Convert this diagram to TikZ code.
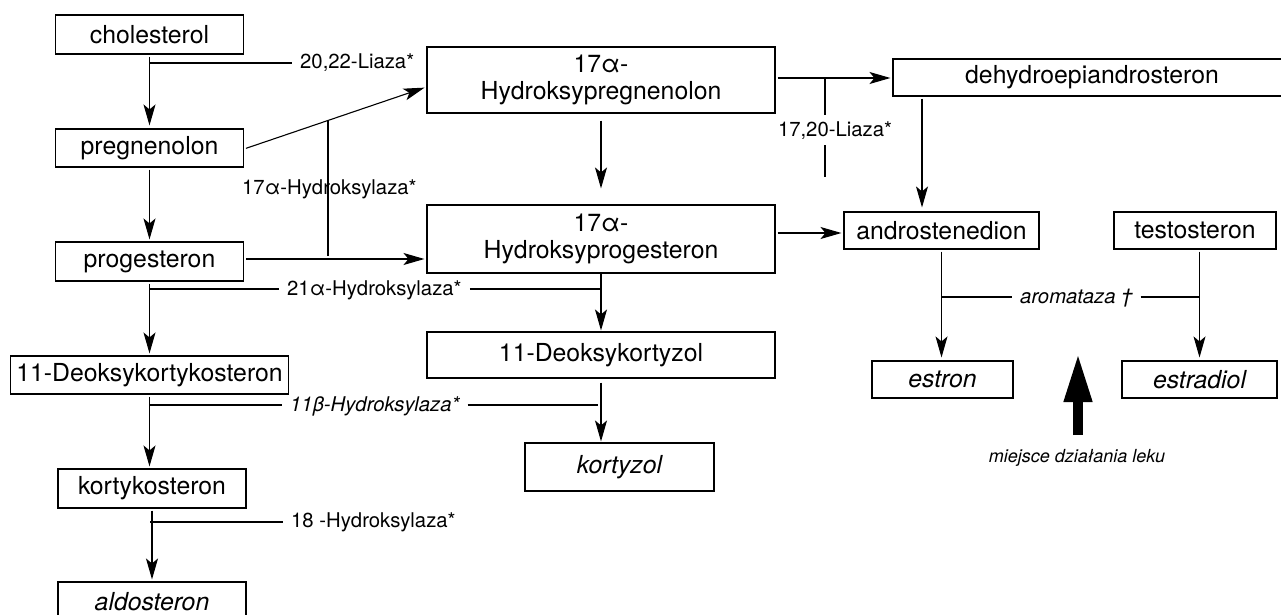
\documentclass[tikz,border=0pt]{standalone}
\usepackage{fontspec}
\setmainfont{TeX Gyre Heros}
\usetikzlibrary{arrows.meta}
\begin{document}
\begin{tikzpicture}[x=1pt,y=-1pt,
  box/.style={draw, line width=1.1pt, inner sep=0pt, font=\fontsize{24.8}{27}\selectfont, align=center},
  lab/.style={inner xsep=8pt, inner ysep=0pt, anchor=base west, font=\fontsize{20.3}{24}\selectfont},
  ilab/.style={lab, font=\itshape\fontsize{20.3}{24}\selectfont},
  arr/.style={-{Stealth[length=21pt,width=12pt,inset=5pt]}, line width=1.1pt},
  ln/.style={line width=1.1pt}]
\useasboundingbox (0,0) rectangle (1281,615);
\clip (0,0) rectangle (1281,615);
\fill[white] (0,0) rectangle (1281,615);

% boxes
\node[box, minimum width=188pt, minimum height=39pt] (chol) at (149.5,34.5) {cholesterol};
\node[box, minimum width=188pt, minimum height=38pt] (preg) at (149.5,148) {pregnenolon};
\node[box, minimum width=188pt, minimum height=39pt] (prog) at (149.5,261.5) {progesteron};
\node[box, minimum width=278pt, minimum height=38pt] (dkst) at (149.5,375) {11-Deoksykortykosteron};
\node[box, minimum width=188pt, minimum height=39pt] (kort) at (152,488.5) {kortykosteron};
\node[box, minimum width=188pt, minimum height=39pt] (aldo) at (152,601.5) {\itshape aldosteron};
\node[box, minimum width=348pt, minimum height=66pt] (hpreg) at (601,80) {17α-\\Hydroksypregnenolon};
\node[box, minimum width=348pt, minimum height=68pt] (hprog) at (601,239) {17α-\\Hydroksyprogesteron};
\node[box, minimum width=348pt, minimum height=46pt] (dkz) at (601,355) {11-Deoksykortyzol};
\node[box, minimum width=189pt, minimum height=48pt] (kortyzol) at (619.5,467) {\itshape kortyzol};
\node[box, minimum width=398pt, minimum height=37pt] (dhea) at (1092,77.5) {dehydroepiandrosteron};
\node[box, minimum width=195pt, minimum height=37pt] (andr) at (941.5,230.5) {androstenedion};
\node[box, minimum width=162pt, minimum height=37pt] (test) at (1195,230.5) {testosteron};
\node[box, minimum width=141pt, minimum height=37pt] (estron) at (942.5,379.5) {\itshape estron};
\node[box, minimum width=155pt, minimum height=37pt] (estradiol) at (1199.5,379.5) {\itshape estradiol};

% arrows
\draw[arr, shorten <=2pt, shorten >=3pt] (chol) -- (preg);
\draw[arr, shorten <=2pt, shorten >=2pt] ([yshift=-1pt]preg.east) -- ([yshift=-7pt]hpreg.west);
\draw[arr, shorten <=2pt, shorten >=2pt] (preg) -- (prog);
\draw[arr, shorten <=2pt, shorten >=2pt] ([yshift=2.5pt]prog.east) -- ([yshift=2.5pt]prog.east -| hprog.west);
\draw[arr, shorten <=2pt, shorten >=2pt] (prog) -- (dkst);
\draw[arr, shorten <=2pt, shorten >=2pt] (dkst.south) -- (dkst.south |- kort.north);
\draw[arr, shorten <=2pt, shorten >=2pt] (kort) -- (aldo);
\draw[arr] ([yshift=-7pt]hpreg.south) -- ([yshift=16pt]hprog.north);
\draw[arr, shorten >=1pt] (hprog.south) -- (dkz.north);
\draw[arr, shorten >=1pt] ([yshift=-4pt]dkz.south) -- (dkz.south |- kortyzol.north);
\draw[arr, shorten <=2pt, shorten >=2pt] ([yshift=2pt]hpreg.east) -- ([yshift=2pt]hpreg.east -| dhea.west);
\draw[arr, shorten <=2pt, shorten >=2pt] ([yshift=6pt]hprog.east) -- ([yshift=6pt]hprog.east -| andr.west);
\coordinate (m1) at ([xshift=-19.5pt]andr.north);
\draw[arr, shorten <=2pt, shorten >=4pt] (m1 |- dhea.south) -- (m1);
\draw[arr, shorten <=2pt, shorten >=3pt] (andr.south) -- (andr.south |- estron.north);
\draw[arr, shorten <=2pt, shorten >=3pt] (estradiol.north |- test.south) -- (estradiol.north);

% enzyme labels
\coordinate (e1) at (150,63);
\node[lab] (l1) at (292,68.5) {20,22-Liaza*};
\draw[ln] (e1) -- (l1.west |- e1);

\coordinate (e2a) at (328,120.4);
\coordinate (e2b) at (328,256);
\draw[ln] (e2a) -- (e2b);
\node[lab, inner xsep=0pt] (l2) at (242,194) {17α-Hydroksylaza*};

\coordinate (e3) at (150,289);
\node[lab] (l3) at (279,295.5) {21α-Hydroksylaza*};
\draw[ln] (e3) -- (l3.west |- e3);
\draw[ln] (l3.east |- e3) -- (hprog.south |- e3);

\coordinate (e4) at (150,405);
\node[ilab] (l4) at (282,411) {11β-Hydroksylaza*};
\draw[ln] (e4) -- (l4.west |- e4);
\draw[ln] (l4.east |- e4) -- ([xshift=-3pt]dkz.south |- e4);

\coordinate (e5) at (150,522);
\node[lab] (l5) at (283,527) {18 -Hydroksylaza*};
\draw[ln] (e5) -- (l5.west |- e5);

\coordinate (e6a) at (825,78);
\coordinate (e6b) at (825,177);
\node[lab, anchor=base, inner ysep=6pt] (l6) at (835,136) {17,20-Liaza*};
\draw[ln] (e6a) -- (e6a |- l6.north);
\draw[ln] (e6a |- l6.south) -- (e6b);

\coordinate (e7a) at (942,297);
\coordinate (e7b) at (1199,297);
\node[ilab] (l7) at (1012,303) {aromataza †};
\draw[ln] (e7a) -- (l7.west |- e7a);
\draw[ln] (l7.east |- e7a) -- (e7b);

% drug action arrow
\coordinate (ba1) at (1078,435);
\coordinate (ba2) at (1078,353);
\draw[line width=10pt, -{Triangle[length=49pt,width=26pt]}] (ba1) -- (ba2);
\node[font=\itshape\fontsize{18}{22}\selectfont, anchor=base] (leku) at (1077,462) {miejsce działania leku};
\end{tikzpicture}
\end{document}
